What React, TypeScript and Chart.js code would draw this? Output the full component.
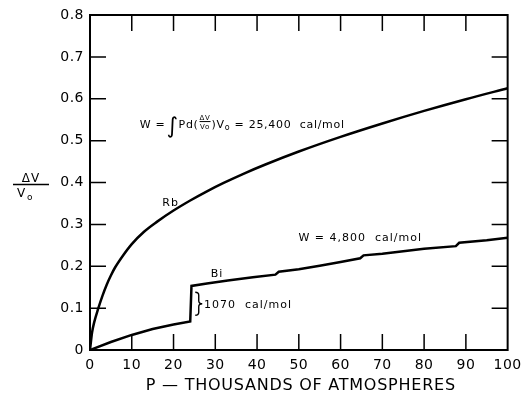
import React, { useEffect, useRef } from 'react';
import { Chart, registerables } from 'chart.js';

Chart.register(...registerables);

// Rb curve: pressure (thousands of atm) vs ΔV/V0
const rbPressure = [0, 0.5, 1, 2, 3, 4, 5, 6, 8, 10, 13, 16, 20, 24, 28, 32, 37, 42, 50, 60, 70, 80, 90, 100];
const rbVolume = [0, 0.042, 0.066, 0.1, 0.13, 0.156, 0.178, 0.197, 0.227, 0.253, 0.283, 0.306, 0.333, 0.357, 0.379, 0.399, 0.422, 0.443, 0.474, 0.509, 0.541, 0.571, 0.599, 0.625];

// Bi curve with phase-transition steps
const biPressure = [0, 5, 10, 15, 20, 24, 24.3, 28, 33, 39, 44.4, 45.2, 50, 55, 60, 64.7, 65.5, 70, 75, 80, 87.6, 88.4, 95, 100];
const biVolume = [0, 0.019, 0.036, 0.05, 0.061, 0.068, 0.153, 0.159, 0.166, 0.174, 0.18, 0.187, 0.193, 0.201, 0.21, 0.219, 0.226, 0.23, 0.236, 0.242, 0.248, 0.256, 0.262, 0.268];

const xTickValues = [0, 10, 20, 30, 40, 50, 60, 70, 80, 90, 100];
const yTickValues = [0, 0.1, 0.2, 0.3, 0.4, 0.5, 0.6, 0.7, 0.8];

const xTitle = 'P \u2014 THOUSANDS OF ATMOSPHERES';
const rbLabel = 'Rb';
const biLabel = 'Bi';
const rbWorkValue = '= 25,400  cal/mol';
const biWorkLabel = 'W = 4,800  cal/mol';
const transitionLabel = '1070  cal/mol';

const FONT = '"DejaVu Sans", sans-serif';

const framePlugin = {
  id: 'framePlugin',
  beforeDraw(chart: any) {
    (chart.ctx as any).letterSpacing = '0.5px';
  },
  afterDraw(chart: any) {
    const ctx = chart.ctx as CanvasRenderingContext2D & { letterSpacing?: string };
    const xs = chart.scales.x;
    const ys = chart.scales.y;
    const { left, right, top, bottom } = chart.chartArea;
    ctx.save();
    ctx.strokeStyle = '#000';
    ctx.fillStyle = '#000';
    // frame
    ctx.lineWidth = 2;
    ctx.strokeRect(left, top, right - left, bottom - top);
    // inner ticks
    const tl = 16;
    ctx.lineWidth = 1.5;
    ctx.beginPath();
    xTickValues.slice(1, -1).forEach((v) => {
      const px = xs.getPixelForValue(v);
      ctx.moveTo(px, bottom);
      ctx.lineTo(px, bottom - tl);
      ctx.moveTo(px, top);
      ctx.lineTo(px, top + tl);
    });
    yTickValues.slice(1, -1).forEach((v) => {
      const py = ys.getPixelForValue(v);
      ctx.moveTo(left, py);
      ctx.lineTo(left + tl, py);
      ctx.moveTo(right, py);
      ctx.lineTo(right - tl, py);
    });
    ctx.stroke();

    // x-axis title
    ctx.letterSpacing = '0.75px';
    ctx.textAlign = 'center';
    ctx.textBaseline = 'alphabetic';
    ctx.font = `16px ${FONT}`;
    ctx.fillText(xTitle, (left + right) / 2 + 2, 390);

    // y-axis title as fraction ΔV / V0
    ctx.letterSpacing = '1px';
    ctx.textBaseline = 'alphabetic';
    ctx.textAlign = 'center';
    ctx.font = `12px ${FONT}`;
    ctx.fillText('\u0394V', 31, 182);
    ctx.lineWidth = 1.5;
    ctx.beginPath();
    ctx.moveTo(13, 184.5);
    ctx.lineTo(49, 184.5);
    ctx.stroke();
    ctx.textAlign = 'left';
    ctx.fillText('V', 17, 197);
    ctx.font = `9px ${FONT}`;
    ctx.fillText('o', 27, 200);

    // Rb work formula
    ctx.letterSpacing = '0.7px';
    ctx.textAlign = 'left';
    let x = xs.getPixelForValue(11.9);
    const base = ys.getPixelForValue(0.53);
    const run = (t: string, size: number, dy = 0) => {
      ctx.font = `${size}px ${FONT}`;
      ctx.fillText(t, x, base + dy);
      x += ctx.measureText(t).width;
    };
    run('W =', 11);
    x += 1;
    run('\u222B', 22, 5);
    run('Pd(', 11);
    // small fraction
    ctx.font = `7px ${FONT}`;
    const fw = 13;
    ctx.textAlign = 'center';
    ctx.fillText('\u0394V', x + fw / 2, base - 8);
    ctx.lineWidth = 1;
    ctx.beginPath();
    ctx.moveTo(x + 1, base - 6.5);
    ctx.lineTo(x + fw - 1, base - 6.5);
    ctx.stroke();
    ctx.fillText('Vo', x + fw / 2, base + 1);
    ctx.textAlign = 'left';
    x += fw;
    run(')V', 11);
    run('o', 8, 2);
    run(' ' + rbWorkValue, 11);

    ctx.letterSpacing = '1px';
    ctx.font = `11px ${FONT}`;
    ctx.textAlign = 'center';
    ctx.textBaseline = 'middle';
    ctx.fillText(rbLabel, xs.getPixelForValue(19.3), ys.getPixelForValue(0.351));
    ctx.fillText(biLabel, xs.getPixelForValue(30.4), ys.getPixelForValue(0.181));
    ctx.textAlign = 'left';
    ctx.fillText(biWorkLabel, xs.getPixelForValue(49.9), ys.getPixelForValue(0.267));
    ctx.fillText(transitionLabel, xs.getPixelForValue(27.3), ys.getPixelForValue(0.108));

    // brace
    const bx = xs.getPixelForValue(25.2);
    const btop = ys.getPixelForValue(0.138);
    const bbot = ys.getPixelForValue(0.083);
    const bmid = (btop + bbot) / 2;
    const bw = 7;
    const bc = bx + bw / 2;
    ctx.lineWidth = 1.4;
    ctx.beginPath();
    ctx.moveTo(bx, btop);
    ctx.quadraticCurveTo(bc, btop, bc, btop + 3);
    ctx.lineTo(bc, bmid - 3);
    ctx.quadraticCurveTo(bc, bmid, bx + bw, bmid);
    ctx.quadraticCurveTo(bc, bmid, bc, bmid + 3);
    ctx.lineTo(bc, bbot - 3);
    ctx.quadraticCurveTo(bc, bbot, bx, bbot);
    ctx.stroke();

    ctx.restore();
    ctx.letterSpacing = '0px';
  },
};

export default function App() {
  const ref = useRef<HTMLCanvasElement | null>(null);
  useEffect(() => {
    if (!ref.current) return;
    const chart = new Chart(ref.current, {
      type: 'line',
      data: {
        datasets: [
          {
            label: 'Rb',
            data: rbPressure.map((p, i) => ({ x: p, y: rbVolume[i] })),
            borderColor: '#000',
            borderWidth: 2.5,
            pointRadius: 0,
            fill: false,
            cubicInterpolationMode: 'monotone',
          },
          {
            label: 'Bi',
            data: biPressure.map((p, i) => ({ x: p, y: biVolume[i] })),
            borderColor: '#000',
            borderWidth: 2.5,
            pointRadius: 0,
            fill: false,
            tension: 0,
          },
        ],
      },
      options: {
        animation: false,
        responsive: false,
        layout: { padding: { left: 0, right: 17, top: 15, bottom: 0 } },
        plugins: { legend: { display: false }, tooltip: { enabled: false } },
        scales: {
          x: {
            type: 'linear',
            min: 0,
            max: 100,
            afterBuildTicks: (s: any) => {
              s.ticks = xTickValues.map((v) => ({ value: v }));
            },
            afterFit: (s: any) => {
              s.height = 46;
            },
            grid: { display: false, drawTicks: false },
            border: { display: false },
            ticks: {
              color: '#000',
              font: { family: FONT, size: 14 },
              padding: 7,
              maxRotation: 0,
              autoSkip: false,
              callback: (v: any) => String(v),
            },
          },
          y: {
            type: 'linear',
            min: 0,
            max: 0.8,
            afterBuildTicks: (s: any) => {
              s.ticks = yTickValues.map((v) => ({ value: v }));
            },
            afterFit: (s: any) => {
              s.width = 90;
            },
            grid: { display: false, drawTicks: false },
            border: { display: false },
            ticks: {
              color: '#000',
              font: { family: FONT, size: 14 },
              padding: 6,
              autoSkip: false,
              callback: (v: any) => (Math.abs(Number(v)) < 1e-9 ? '0' : Number(v).toFixed(1)),
            },
          },
        },
      },
      plugins: [framePlugin],
    } as any);
    return () => chart.destroy();
  }, []);
  return (
    <div style={{ position: 'fixed', left: 0, top: 0, width: 528, height: 396, background: '#fff' }}>
      <canvas ref={ref} width={528} height={396} style={{ display: 'block', width: 528, height: 396 }} />
    </div>
  );
}
